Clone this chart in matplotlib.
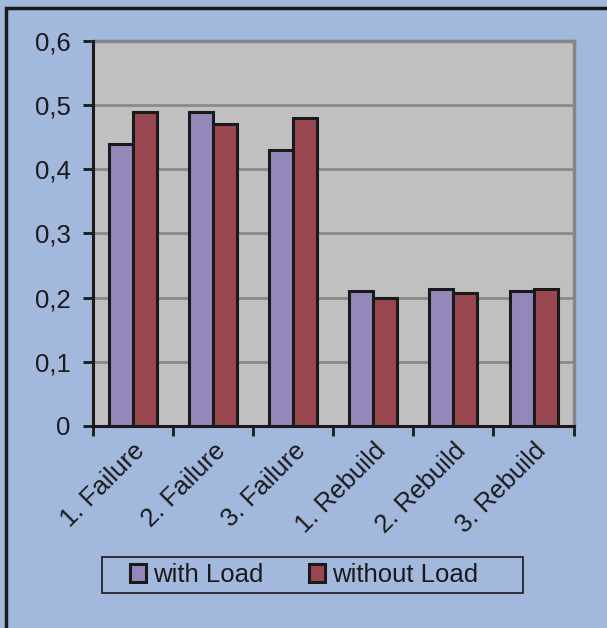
import numpy as np
import matplotlib
matplotlib.use("Agg")
import matplotlib.pyplot as plt
from matplotlib.patches import Rectangle

# data
categories = ["1. Failure", "2. Failure", "3. Failure", "1. Rebuild", "2. Rebuild", "3. Rebuild"]
with_load = [0.44, 0.49, 0.43, 0.211, 0.214, 0.211]
without_load = [0.49, 0.47, 0.48, 0.199, 0.207, 0.213]
y_ticks = [0, 0.1, 0.2, 0.3, 0.4, 0.5, 0.6]
y_labels = ["0", "0,1", "0,2", "0,3", "0,4", "0,5", "0,6"]

plt.rcParams['font.family'] = ['Liberation Sans', 'DejaVu Sans']
fs = 18.5

bg = "#A3B8DD"
fig = plt.figure(figsize=(6.07, 6.28), dpi=100, facecolor=bg)
ax = fig.add_axes([0.153, 0.3217, 0.792, 0.613])
ax.set_facecolor("#C0C0C0")

x = np.arange(len(categories))
w = 0.3
ax.bar(x - w / 2, with_load, w, color="#9487BA", edgecolor="#1a1a1a", linewidth=2.2,
       label="with Load", zorder=3)
ax.bar(x + w / 2, without_load, w, color="#994851", edgecolor="#1a1a1a", linewidth=2.2,
       label="without Load", zorder=3)

ax.set_xlim(-0.5, len(categories) - 0.5)
ax.set_ylim(0, 0.6)
ax.set_yticks(y_ticks)
ax.set_yticklabels(y_labels, fontsize=fs, color="#1a1a1a")
ax.yaxis.grid(True, color="#8a8a8a", linewidth=2, zorder=0)

# category ticks sit between groups, labels at the centers
ax.set_xticks(np.arange(len(categories) + 1) - 0.5)
ax.set_xticklabels([])
ax.set_xticks(x, minor=True)
ax.set_xticklabels(categories, minor=True, rotation=45, ha="right",
                   rotation_mode="anchor", fontsize=fs, color="#1a1a1a")
ax.tick_params(axis="x", which="minor", length=0, pad=9)
ax.tick_params(axis="x", which="major", length=7, width=2, direction="out", color="#1a1a1a")
ax.tick_params(axis="y", length=7, width=2, direction="out", color="#1a1a1a", pad=9)

for s in ["left", "bottom"]:
    ax.spines[s].set_color("#1a1a1a")
    ax.spines[s].set_linewidth(2.2)
    ax.spines[s].set_zorder(4)
for s in ["top", "right"]:
    ax.spines[s].set_color("#858585")
    ax.spines[s].set_linewidth(2.5)

leg = fig.legend(loc="center", bbox_to_anchor=(0.5008, 0.0844), ncol=2, fontsize=fs,
                 frameon=False, handlelength=0.65, handleheight=0.65, handletextpad=0.27,
                 columnspacing=1.75, borderpad=0.2)
for t in leg.get_texts():
    t.set_color("#1a1a1a")

# legend box drawn separately (Excel style, uneven padding)
fig.patches.append(Rectangle((102 / 607, 1 - 593 / 628), 421 / 607, 36 / 628,
                             transform=fig.transFigure, fill=False,
                             edgecolor="#1a1a1a", linewidth=1.2))

# outer chart frame (only left and top visible in the crop)
fig.patches.append(Rectangle((6 / 607, -0.05), 1.2, (628 - 8) / 628 + 0.05,
                             transform=fig.transFigure, fill=False,
                             edgecolor="#1a1a1a", linewidth=2.5))

fig.savefig("out.png", dpi=100, facecolor=bg)
